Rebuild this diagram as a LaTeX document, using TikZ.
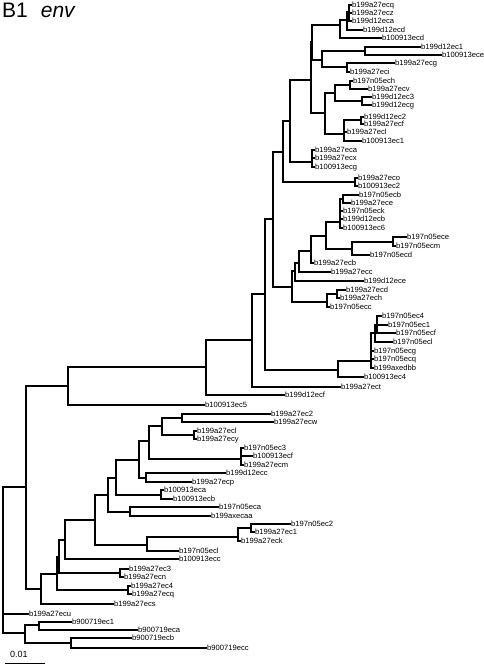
\documentclass[tikz,border=0pt]{standalone}
\usepackage{fontspec}
\setmainfont{Liberation Sans}

\begin{document}
\begin{tikzpicture}[x=1pt,y=-1pt,
    leaf/.style={anchor=west,inner sep=1pt,font=\fontsize{7.6}{8}\selectfont,text height=5.5pt,text depth=0pt},
    branch/.style={line width=1.8pt,line cap=rect,to path={|- (\tikztotarget) \tikztonodes}}]

    \useasboundingbox (0,0) rectangle (484,665);

    \node[anchor=base west,inner sep=0,font=\fontsize{21}{24}\selectfont] (title) at (2,17) {B1\hspace{13pt}\textit{env}};

    % leaves, top to bottom
    \node[leaf] (t1) at (351,5) {b199a27ecq};
    \node[leaf] (t2) at (351,13) {b199a27ecz};
    \node[leaf] (t3) at (351,21) {b199d12eca};
    \node[leaf] (t4) at (362,30) {b199d12ecd};
    \node[leaf] (t5) at (381,38) {b100913ecd};
    \node[leaf] (t6) at (420,47) {b199d12ec1};
    \node[leaf] (t7) at (441,55) {b100913ece};
    \node[leaf] (t8) at (394,63) {b199a27ecg};
    \node[leaf] (t9) at (349,72) {b199a27eci};
    \node[leaf] (t10) at (352,81) {b197n05ech};
    \node[leaf] (t11) at (367,89) {b199a27ecv};
    \node[leaf] (t12) at (371,97) {b199d12ec3};
    \node[leaf] (t13) at (371,105) {b199d12ecg};
    \node[leaf] (t14) at (363,117) {b199d12ec2};
    \node[leaf] (t15) at (363,124) {b199a27ecf};
    \node[leaf] (t16) at (346,132) {b199a27ecl};
    \node[leaf] (t17) at (361,141) {b100913ec1};
    \node[leaf] (t18) at (314,150) {b199a27eca};
    \node[leaf] (t19) at (314,158) {b199a27ecx};
    \node[leaf] (t20) at (314,167) {b100913ecg};
    \node[leaf] (t21) at (357,178) {b199a27eco};
    \node[leaf] (t22) at (357,186) {b100913ec2};
    \node[leaf] (t23) at (358,195) {b197n05ecb};
    \node[leaf] (t24) at (350,203) {b199a27ece};
    \node[leaf] (t25) at (342,211) {b197n05eck};
    \node[leaf] (t26) at (342,219) {b199d12ecb};
    \node[leaf] (t27) at (342,228) {b100913ec6};
    \node[leaf] (t28) at (406,237) {b197n05ece};
    \node[leaf] (t29) at (395,246) {b197n05ecm};
    \node[leaf] (t30) at (369,255) {b197n05ecd};
    \node[leaf] (t31) at (313,263) {b199a27ecb};
    \node[leaf] (t32) at (330,272) {b199a27ecc};
    \node[leaf] (t33) at (363,281) {b199d12ece};
    \node[leaf] (t34) at (345,290) {b199a27ecd};
    \node[leaf] (t35) at (339,298) {b199a27ech};
    \node[leaf] (t36) at (329,307) {b197n05ecc};
    \node[leaf] (t37) at (381,316) {b197n05ec4};
    \node[leaf] (t38) at (387,325) {b197n05ec1};
    \node[leaf] (t39) at (395,333) {b197n05ecf};
    \node[leaf] (t40) at (392,342) {b197n05ecl};
    \node[leaf] (t41) at (373,351) {b197n05ecg};
    \node[leaf] (t42) at (373,359) {b197n05ecq};
    \node[leaf] (t43) at (373,368) {b199axedbb};
    \node[leaf] (t44) at (363,377) {b100913ec4};
    \node[leaf] (t45) at (340,387) {b199a27ect};
    \node[leaf] (t46) at (284,395) {b199d12ecf};
    \node[leaf] (t47) at (204,405) {b100913ec5};
    \node[leaf] (t48) at (270,414) {b199a27ec2};
    \node[leaf] (t49) at (273,422) {b199a27ecw};
    \node[leaf] (t50) at (196,431) {b199a27ecl};
    \node[leaf] (t51) at (196,439) {b199a27ecy};
    \node[leaf] (t52) at (243,448) {b197n05ec3};
    \node[leaf] (t53) at (252,456) {b100913ecf};
    \node[leaf] (t54) at (243,465) {b199a27ecm};
    \node[leaf] (t55) at (225,473) {b199d12ecc};
    \node[leaf] (t56) at (191,482) {b199a27ecp};
    \node[leaf] (t57) at (163,490) {b100913eca};
    \node[leaf] (t58) at (172,499) {b100913ecb};
    \node[leaf] (t59) at (218,507) {b197n05eca};
    \node[leaf] (t60) at (210,516) {b199axecaa};
    \node[leaf] (t61) at (290,524) {b197n05ec2};
    \node[leaf] (t62) at (254,532) {b199a27ec1};
    \node[leaf] (t63) at (240,541) {b199a27eck};
    \node[leaf] (t64) at (178,551) {b197n05ecl};
    \node[leaf] (t65) at (178,559) {b100913ecc};
    \node[leaf] (t66) at (128,569) {b199a27ec3};
    \node[leaf] (t67) at (123,577) {b199a27ecn};
    \node[leaf] (t68) at (130,586) {b199a27ec4};
    \node[leaf] (t69) at (131,594) {b199a27ecq};
    \node[leaf] (t70) at (113,604) {b199a27ecs};
    \node[leaf] (t71) at (28,614) {b199a27ecu};
    \node[leaf] (t72) at (71,622) {b900719ec1};
    \node[leaf] (t73) at (137,630) {b900719eca};
    \node[leaf] (t74) at (131,638) {b900719ecb};
    \node[leaf] (t75) at (206,648) {b900719ecc};

    % internal nodes
    \coordinate (g1) at (349,12);
    \coordinate (g2) at (347,20);
    \coordinate (g3) at (340,25);
    \coordinate (g5) at (365,51);
    \coordinate (g6) at (347,67);
    \coordinate (g4) at (322,60);
    \coordinate (x1) at (312,42);
    \coordinate (h1) at (350,85);
    \coordinate (h2) at (362,101);
    \coordinate (h3) at (335,93);
    \coordinate (h4) at (361,120);
    \coordinate (h5) at (344,134);
    \coordinate (h6) at (325,113);
    \coordinate (x2) at (311,80);
    \coordinate (e3) at (312,162);
    \coordinate (ab2) at (290,121);
    \coordinate (e4) at (355,182);
    \coordinate (aa) at (283,152);
    \coordinate (ag2) at (343,199);
    \coordinate (ag) at (340,222);
    \coordinate (ah) at (393,242);
    \coordinate (af) at (352,249);
    \coordinate (ae) at (326,236);
    \coordinate (ad) at (311,251);
    \coordinate (ac) at (299,263);
    \coordinate (ab) at (295,271);
    \coordinate (ndh) at (337,294);
    \coordinate (n327) at (327,302);
    \coordinate (z) at (292,287);
    \coordinate (y) at (273,219);
    \coordinate (k1) at (377,325);
    \coordinate (k2) at (375,333);
    \coordinate (k3) at (371,361);
    \coordinate (k4) at (338,370);
    \coordinate (x) at (265,294);
    \coordinate (w) at (252,340);
    \coordinate (v) at (206,367);
    \coordinate (n68) at (68,386);
    \coordinate (ct) at (182,418);
    \coordinate (cu) at (194,435);
    \coordinate (cs) at (162,426);
    \coordinate (cr) at (241,459);
    \coordinate (cq) at (149,441);
    \coordinate (cp) at (146,478);
    \coordinate (co) at (139,460);
    \coordinate (cn) at (161,495);
    \coordinate (cm) at (116,478);
    \coordinate (cl) at (130,512);
    \coordinate (ci) at (108,495);
    \coordinate (ck) at (251,528);
    \coordinate (cj) at (238,537);
    \coordinate (ch) at (147,545);
    \coordinate (cg) at (95,520);
    \coordinate (cf) at (65,540);
    \coordinate (n120) at (120,573);
    \coordinate (ce) at (59,557);
    \coordinate (n128) at (128,590);
    \coordinate (cd) at (57,574);
    \coordinate (cc) at (41,589);
    \coordinate (ca) at (26,487);
    \coordinate (b9a) at (39,625);
    \coordinate (b9b) at (71,643);
    \coordinate (b9) at (25,633);
    \coordinate (root) at (3,560);

    \path[branch] (g1) edge (t1.west) edge (t2.west) edge (t3.west)
                  (g2) edge (g1) edge (t4.west)
                  (g3) edge (g2) edge (t5.west)
                  (g5) edge (t6.west) edge (t7.west)
                  (g6) edge (t8.west) edge (t9.west)
                  (g4) edge (g5) edge (g6)
                  (x1) edge (g3) edge (g4)
                  (h1) edge (t10.west) edge (t11.west)
                  (h2) edge (t12.west) edge (t13.west)
                  (h3) edge (h1) edge (h2)
                  (h4) edge (t14.west) edge (t15.west)
                  (h5) edge (h4) edge (t16.west) edge (t17.west)
                  (h6) edge (h3) edge (h5)
                  (x2) edge (x1) edge (h6)
                  (e3) edge (t18.west) edge (t19.west) edge (t20.west)
                  (ab2) edge (x2) edge (e3)
                  (e4) edge (t21.west) edge (t22.west)
                  (aa) edge (ab2) edge (e4)
                  (ag2) edge (t23.west) edge (t24.west)
                  (ag) edge (ag2) edge (t25.west) edge (t26.west) edge (t27.west)
                  (ah) edge (t28.west) edge (t29.west)
                  (af) edge (ah) edge (t30.west)
                  (ae) edge (ag) edge (af)
                  (ad) edge (ae) edge (t31.west)
                  (ac) edge (ad) edge (t32.west)
                  (ab) edge (ac) edge (t33.west)
                  (ndh) edge (t34.west) edge (t35.west)
                  (n327) edge (ndh) edge (t36.west)
                  (z) edge (ab) edge (n327)
                  (y) edge (aa) edge (z)
                  (k1) edge (t37.west) edge (t38.west) edge (t39.west)
                  (k2) edge (k1) edge (t40.west)
                  (k3) edge (k2) edge (t41.west) edge (t42.west) edge (t43.west)
                  (k4) edge (k3) edge (t44.west)
                  (x) edge (y) edge (k4)
                  (w) edge (x) edge (t45.west)
                  (v) edge (w) edge (t46.west)
                  (n68) edge (v) edge (t47.west);

    \path[branch] (ct) edge (t48.west) edge (t49.west)
                  (cu) edge (t50.west) edge (t51.west)
                  (cs) edge (ct) edge (cu)
                  (cr) edge (t52.west) edge (t53.west) edge (t54.west)
                  (cq) edge (cs) edge (cr)
                  (cp) edge (t55.west) edge (t56.west)
                  (co) edge (cq) edge (cp)
                  (cn) edge (t57.west) edge (t58.west)
                  (cm) edge (co) edge (cn)
                  (cl) edge (t59.west) edge (t60.west)
                  (ci) edge (cm) edge (cl)
                  (ck) edge (t61.west) edge (t62.west)
                  (cj) edge (ck) edge (t63.west)
                  (ch) edge (cj) edge (t64.west)
                  (cg) edge (ci) edge (ch)
                  (cf) edge (cg) edge (t65.west)
                  (n120) edge (t66.west) edge (t67.west)
                  (ce) edge (cf) edge (n120)
                  (n128) edge (t68.west) edge (t69.west)
                  (cd) edge (ce) edge (n128)
                  (cc) edge (cd) edge (t70.west)
                  (ca) edge (n68) edge (cc)
                  (b9a) edge (t72.west) edge (t73.west)
                  (b9b) edge (t74.west) edge (t75.west)
                  (b9) edge (b9a) edge (b9b)
                  (root) edge (ca) edge (t71.west) edge (b9);

    % scale bar
    \node[anchor=base west,inner sep=0,font=\fontsize{9}{10}\selectfont] (scale) at (10,657) {0.01};
    \coordinate (s0) at (5,663);
    \coordinate (s1) at (45,663);
    \draw[line width=1pt] (s0) -- (s1);
\end{tikzpicture}
\end{document}
